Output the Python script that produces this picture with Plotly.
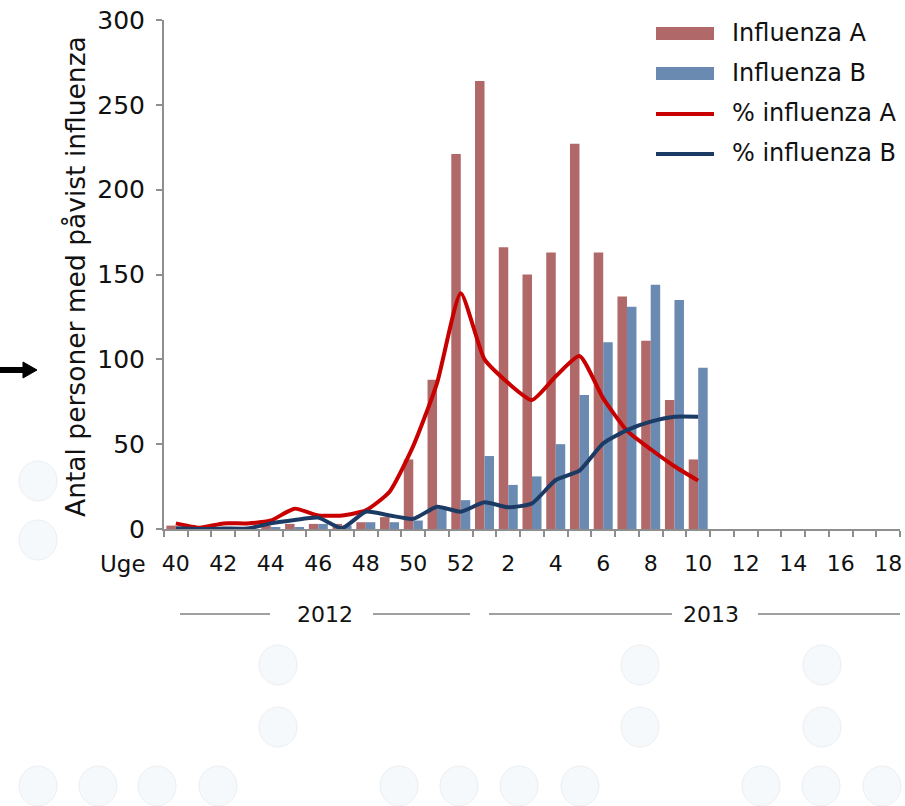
import plotly.graph_objects as go

# ---------------- data ----------------
weeks = ["40", "41", "42", "43", "44", "45", "46", "47", "48", "49", "50", "51", "52",
         "1", "2", "3", "4", "5", "6", "7", "8", "9", "10", "11", "12", "13", "14",
         "15", "16", "17", "18"]
tick_labels = ["40", "", "42", "", "44", "", "46", "", "48", "", "50", "", "52",
               "", "2", "", "4", "", "6", "", "8", "", "10", "", "12", "", "14",
               "", "16", "", "18"]

influenza_a = [2, 0, 1, 1, 2, 3, 3, 3, 4, 7, 41, 88, 221,
               264, 166, 150, 163, 227, 163, 137, 111, 76, 41]
influenza_b = [0, 0, 0, 0, 1, 1, 3, 2, 4, 4, 5, 12, 17,
               43, 26, 31, 50, 79, 110, 131, 144, 135, 95]
pct_a = [3.3, 0.8, 3.3, 3.3, 5, 12, 8, 8, 11, 22, 49, 86, 139,
         100, 86, 76, 90, 102, 77, 58, 47, 37, 28.5]
pct_b = [0.4, 0, 0.3, 0.3, 3.3, 5.3, 6.7, 0.5, 10.2, 8, 6, 13.1, 10.2,
         15.7, 12.8, 15.1, 28.9, 34.4, 50.5, 58.3, 63.3, 66.2, 66.2]

series_names = ["Influenza A", "Influenza B", "% influenza A", "% influenza B"]
y_ticks = [0, 50, 100, 150, 200, 250, 300]
y_title = "Antal personer med påvist influenza"
x_prefix = "Uge"
years = ["2012", "2013"]

# ---------------- style ----------------
W, H = 905, 806
PL, PR, PT, PB = 164, 900, 20, 529          # plot area in window pixels
L, R, T, B = PL, W - PR, PT, H - PB
FONT = "DejaVu Sans, Verdana, sans-serif"
C_A_BAR = "#b06868"
C_B_BAR = "#6a8ab1"
C_A_LINE = "#c80000"
C_B_LINE = "#1b3a64"
AXIS_C = "#8e8e8e"
TXT_C = "#111111"


def px(x):
    """window pixel x -> paper coordinate"""
    return (x - PL) / (PR - PL)


def py(y):
    """window pixel y -> paper coordinate"""
    return (PB - y) / (PB - PT)


def pad(vals):
    return list(vals) + [None] * (len(weeks) - len(vals))


fig = go.Figure()
fig.add_bar(x=weeks, y=pad(influenza_a), name=series_names[0],
            marker=dict(color=C_A_BAR, line=dict(width=0)))
fig.add_bar(x=weeks, y=pad(influenza_b), name=series_names[1],
            marker=dict(color=C_B_BAR, line=dict(width=0)))
fig.add_scatter(x=weeks, y=pad(pct_a), name=series_names[2], mode="lines",
                line=dict(color=C_A_LINE, width=4, shape="spline", smoothing=0.55))
fig.add_scatter(x=weeks, y=pad(pct_b), name=series_names[3], mode="lines",
                line=dict(color=C_B_LINE, width=4, shape="spline", smoothing=0.55))

shapes = []
annotations = []

# manual legend
leg_y = [33, 73, 113, 153]
for i, name in enumerate(series_names):
    yy = leg_y[i]
    if i < 2:
        shapes.append(dict(type="rect", xref="paper", yref="paper",
                           x0=px(656), x1=px(714), y0=py(yy - 6), y1=py(yy + 7),
                           fillcolor=[C_A_BAR, C_B_BAR][i], line=dict(width=0)))
    else:
        shapes.append(dict(type="line", xref="paper", yref="paper",
                           x0=px(656), x1=px(714), y0=py(yy + 1), y1=py(yy + 1),
                           line=dict(color=[C_A_LINE, C_B_LINE][i - 2], width=4)))
    annotations.append(dict(text=name, xref="paper", yref="paper",
                            x=px(731), y=py(yy), xanchor="left", yanchor="middle",
                            showarrow=False, borderpad=0,
                            font=dict(family=FONT, size=24, color=TXT_C)))

# y-axis title
annotations.append(dict(text=y_title, xref="paper", yref="paper", x=px(75), y=py(277),
                        xanchor="center", yanchor="middle", textangle=-90,
                        showarrow=False, borderpad=0,
                        font=dict(family=FONT, size=26.5, color=TXT_C)))

# year separators
yl = 614
for (a, b) in [(180, 270), (373, 470), (489, 672), (758, 900)]:
    shapes.append(dict(type="line", xref="paper", yref="paper",
                       x0=px(a), x1=px(b), y0=py(yl), y1=py(yl),
                       line=dict(color="#a0a0a0", width=2)))
for txt, cx in zip(years, [325, 711]):
    annotations.append(dict(text=txt, xref="paper", yref="paper", x=px(cx), y=py(yl),
                            xanchor="center", yanchor="middle", showarrow=False,
                            font=dict(family=FONT, size=22, color=TXT_C)))

# "Uge" prefix
annotations.append(dict(text=x_prefix, xref="paper", yref="paper", x=px(148), y=py(564),
                        xanchor="right", yanchor="middle", showarrow=False,
                        font=dict(family=FONT, size=23, color=TXT_C)))

# arrow (polygon in window pixels)
ay = 370
arrow_pts = [(0, ay - 2.5), (23, ay - 2.5), (23, ay - 8), (37, ay), (23, ay + 8),
             (23, ay + 2.5), (0, ay + 2.5)]
path = "M " + " L ".join(f"{px(x):.5f},{py(y):.5f}" for x, y in arrow_pts) + " Z"
shapes.append(dict(type="path", xref="paper", yref="paper", path=path,
                   fillcolor="#000", line=dict(color="#000", width=1)))

# faint circles
circ = [(38, 481), (38, 540),
        (278, 665), (640, 665), (822, 665),
        (278, 727), (640, 727), (822, 727),
        (38, 786), (98, 786), (157, 786), (218, 786), (399, 786), (459, 786),
        (519, 786), (580, 786), (761, 786), (821, 786), (882, 786)]
for cx, cy in circ:
    shapes.append(dict(type="circle", xref="paper", yref="paper",
                       x0=px(cx - 19), x1=px(cx + 19), y0=py(cy - 20), y1=py(cy + 20),
                       fillcolor="#f6f9fb", line=dict(color="#eceff2", width=1),
                       layer="below"))

fig.update_layout(
    width=W, height=H,
    margin=dict(l=L, r=R, t=T, b=B, pad=0, autoexpand=False),
    paper_bgcolor="white", plot_bgcolor="white",
    barmode="group", bargap=0.2, bargroupgap=0,
    showlegend=False,
    font=dict(family=FONT, color=TXT_C),
    shapes=shapes, annotations=annotations,
)
fig.update_xaxes(
    type="category", categoryorder="array", categoryarray=weeks,
    range=[-0.5, len(weeks) - 0.5], automargin=False,
    tickmode="array", tickvals=weeks, ticktext=tick_labels,
    tickson="boundaries", ticks="outside", ticklen=6, tickwidth=2, tickcolor=AXIS_C,
    showline=True, linecolor=AXIS_C, linewidth=2, showgrid=False, zeroline=False,
    tickfont=dict(family=FONT, size=22, color=TXT_C), tickangle=0,
    ticklabelstandoff=14, ticklabeloverflow="allow",
)
fig.update_yaxes(
    range=[0, 300], tickmode="array", tickvals=y_ticks, automargin=False,
    ticks="outside", ticklen=6, tickwidth=2, tickcolor=AXIS_C,
    showline=True, linecolor=AXIS_C, linewidth=2, showgrid=False, zeroline=False,
    tickfont=dict(family=FONT, size=25, color=TXT_C), ticklabelstandoff=6,
    ticklabeloverflow="allow",
)

# remove the default page margin so the figure fills the window exactly
fig.write_html("out.html",
               config={"displayModeBar": False},
               post_script="document.body.style.margin='0px';"
                           "document.body.style.overflow='hidden';")
